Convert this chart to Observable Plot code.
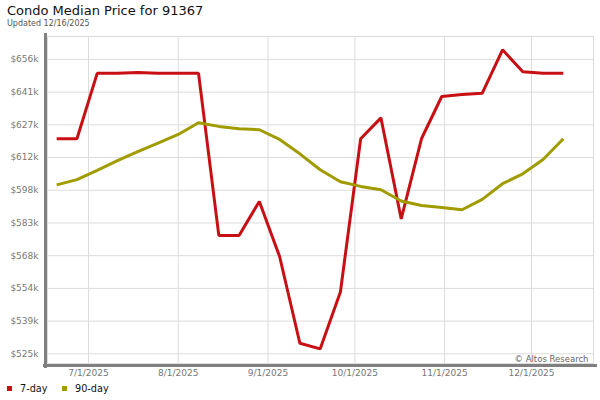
<!DOCTYPE html>
<html>
<head>
<meta charset="utf-8">
<script src="https://cdn.jsdelivr.net/npm/d3@7"></script>
<script src="https://cdn.jsdelivr.net/npm/@observablehq/plot@0.6"></script>
<style>
  body { margin: 0; background: #fff; font-family: "DejaVu Sans", sans-serif; }
  #wrap { width: 600px; height: 400px; position: relative; overflow: hidden; }
  #header { position: relative; height: 30px; }
  #title { position: absolute; left: 7px; top: 3px; font-size: 13px; line-height: 15px; color: #111; white-space: nowrap; }
  #subtitle { position: absolute; left: 7px; top: 19px; font-size: 8px; line-height: 10px; color: #555; white-space: nowrap; }
  #chart svg { display: block; }
  #legend { position: relative; height: 18px; font-size: 9.7px; color: #111; }
  .item { position: absolute; top: 1px; line-height: 12px; white-space: nowrap; }
  .sw { display: inline-block; width: 5px; height: 5px; margin-right: 8px; vertical-align: 1px; }
</style>
</head>
<body>
<div id="wrap">
  <div id="header">
    <div id="title">Condo Median Price for 91367</div>
    <div id="subtitle">Updated 12/16/2025</div>
  </div>
  <div id="chart"></div>
  <div id="legend"></div>
</div>
<script>
// Weekly dates
const dates = [
  "2025-06-20","2025-06-27","2025-07-04","2025-07-11","2025-07-18","2025-07-25",
  "2025-08-01","2025-08-08","2025-08-15","2025-08-22","2025-08-29","2025-09-05",
  "2025-09-12","2025-09-19","2025-09-26","2025-10-03","2025-10-10","2025-10-17",
  "2025-10-24","2025-10-31","2025-11-07","2025-11-14","2025-11-21","2025-11-28",
  "2025-12-05","2025-12-12"
];
// Median price, $k
const sevenDay = [
  620.7, 620.7, 649.8, 649.8, 650.2, 649.8, 649.8, 649.8, 577.7, 577.7, 592.8, 568.3,
  529.7, 527.2, 552.5, 620.7, 630.0, 585.0, 620.7, 639.5, 640.4, 641.0, 660.3, 650.5,
  649.8, 649.8
];
const ninetyDay = [
  600.2, 602.5, 606.6, 611.0, 615.0, 618.8, 622.6, 627.8, 626.2, 625.2, 624.7, 620.4,
  614.0, 606.9, 601.6, 599.5, 598.0, 593.0, 591.0, 590.1, 589.1, 593.7, 600.7, 605.1,
  611.5, 620.7
];
const seriesNames = ["7-day", "90-day"];
const seriesColors = ["#c81014", "#a09c00"];

// Axis ticks
const yTickValues = [525, 539.56, 554.11, 568.67, 583.22, 597.78, 612.33, 626.89, 641.44, 656];
const yTickLabels = ["$525k","$539k","$554k","$568k","$583k","$598k","$612k","$627k","$641k","$656k"];
const yDomain = [520.7, 666.2];
const xTickDates = ["2025-07-01","2025-08-01","2025-09-01","2025-10-01","2025-11-01","2025-12-01"];
const xDomainDates = ["2025-06-16T20:00:00Z", "2025-12-22T10:00:00Z"];

const parse = d => new Date(d.length > 10 ? d : d + "T00:00:00Z");
const rows = [];
dates.forEach((d, i) => {
  rows.push({date: parse(d), value: sevenDay[i], series: seriesNames[0]});
  rows.push({date: parse(d), value: ninetyDay[i], series: seriesNames[1]});
});
const xTicks = xTickDates.map(parse);
const fmtDate = d3.utcFormat("%-m/%-d/%Y");

const chart = Plot.plot({
  width: 600,
  height: 352,
  marginTop: 6,
  marginBottom: 19,
  marginLeft: 47,
  marginRight: 7,
  style: {fontFamily: "DejaVu Sans, sans-serif", fontSize: "9px", color: "#777", background: "#fff"},
  x: {type: "utc", domain: xDomainDates.map(parse), label: null},
  y: {domain: yDomain, label: null},
  color: {domain: seriesNames, range: seriesColors},
  marks: [
    Plot.gridY(yTickValues, {stroke: "#dcdcdc", strokeOpacity: 1}),
    Plot.gridX(xTicks, {stroke: "#dcdcdc", strokeOpacity: 1}),
    Plot.frame({stroke: "#dcdcdc"}),
    Plot.frame({anchor: "left", stroke: "#808080", strokeWidth: 3, dx: -2, insetTop: -2, insetBottom: -3}),
    Plot.frame({anchor: "bottom", stroke: "#808080", strokeWidth: 3, dy: 2, insetLeft: -3, insetRight: -2}),
    Plot.axisY(yTickValues, {label: null, tickSize: 0, tickPadding: 9, tickFormat: (d, i) => yTickLabels[i], fill: "#777", fontSize: 9}),
    Plot.axisX(xTicks, {label: null, tickSize: 0, tickPadding: 6, tickFormat: fmtDate, fill: "#777", fontSize: 9}),
    Plot.text(["© Altos Research"], {frameAnchor: "bottom-right", textAnchor: "end", lineAnchor: "bottom", dx: -5, dy: -2, fill: "#666", fontSize: 8.5}),
    Plot.line(rows, {x: "date", y: "value", z: "series", stroke: "series", strokeWidth: 3, strokeLinejoin: "miter", strokeLinecap: "butt", curve: "linear"})
  ]
});
document.getElementById("chart").appendChild(chart);

const legend = document.getElementById("legend");
const legendX = [7, 62];
seriesNames.forEach((name, i) => {
  const item = document.createElement("div");
  item.className = "item";
  item.style.left = legendX[i] + "px";
  item.innerHTML = `<span class="sw" style="background:${seriesColors[i]}"></span>${name}`;
  legend.appendChild(item);
});
</script>
</body>
</html>
